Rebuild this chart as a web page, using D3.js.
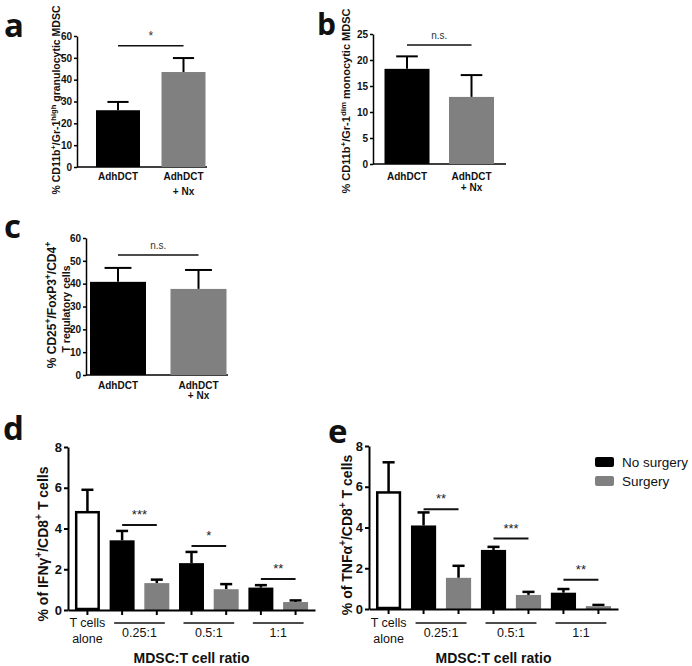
<!DOCTYPE html>
<html>
<head>
<meta charset="utf-8">
<script src="https://cdn.jsdelivr.net/npm/d3@7"></script>
<style>
  body { margin: 0; background: #fff; }
  text { font-family: "Liberation Sans", Arial, sans-serif; }
  .letter { font-family: "Open Sans", sans-serif; font-weight: 700; }
</style>
</head>
<body>
<div id="fig"></div>
<script>
// panels a-c
const groups = ["AdhDCT", "AdhDCT + Nx"];
const granMean = [26.0, 43.5], granErr = [3.8, 6.4];
const monoMean = [18.3, 12.9], monoErr = [2.4, 4.2];
const tregMean = [40.8, 37.7], tregErr = [6.1, 8.3];

// panels d-e
const ratios = ["0.25:1", "0.5:1", "1:1"];
const series = ["No surgery", "Surgery"];
const ifnAlone = 4.8, ifnAloneErr = 1.1;
const ifnNo = [3.42, 2.3, 1.1], ifnNoErr = [0.46, 0.55, 0.12];
const ifnSurg = [1.32, 1.02, 0.39], ifnSurgErr = [0.17, 0.25, 0.08];
const ifnSig = ["***", "*", "**"], ifnSigAt = [4.17, 3.14, 1.52];
const tnfAlone = 5.72, tnfAloneErr = 1.48;
const tnfNo = [4.1, 2.9, 0.8], tnfNoErr = [0.64, 0.15, 0.18];
const tnfSurg = [1.53, 0.69, 0.14], tnfSurgErr = [0.59, 0.15, 0.06];
const tnfSig = ["**", "***", "**"], tnfSigAt = [4.89, 3.46, 1.43];

const colors = ["#000", "#808080"];

const svg = d3.select("#fig").append("svg")
  .attr("width", 692)
  .attr("height", 666);

// rotated title with superscripts, parts = [text, isSup]
function richText(g, parts, size) {
  const t = g.append("text")
    .attr("text-anchor", "middle")
    .attr("font-weight", "bold")
    .attr("font-size", size);
  let up = false;
  parts.forEach(([s, sup]) => {
    const ts = t.append("tspan").text(s);
    if (sup && !up) { ts.attr("dy", -size * 0.4).attr("font-size", size * 0.72); up = true; }
    else if (sup) { ts.attr("font-size", size * 0.72); }
    else if (up) { ts.attr("dy", size * 0.4); up = false; }
  });
  return t;
}

function smallPanel(o) {
  const g = svg.append("g");
  const y = d3.scaleLinear().domain([0, o.max]).range([o.yb, o.yt]);
  const x = d3.scalePoint().domain(groups).range(o.centers);

  g.append("g")
    .attr("transform", `translate(${o.x0},0)`)
    .call(d3.axisLeft(y).tickValues(d3.range(0, o.max + 1, o.step)).tickSize(3).tickPadding(2).tickSizeOuter(0))
    .call(a => a.select(".domain").attr("stroke-width", 1.5))
    .call(a => a.selectAll(".tick line").attr("stroke-width", 1.5))
    .call(a => a.selectAll(".tick text").attr("font-size", 10).attr("font-weight", "bold")
      .attr("font-family", "Liberation Sans, Arial, sans-serif").attr("fill", "#111"));

  g.append("line")
    .attr("x1", o.x0).attr("x2", o.x1)
    .attr("y1", y(0)).attr("y2", y(0))
    .attr("stroke", "#000").attr("stroke-width", 1.5);

  groups.forEach((d, i) => {
    const cx = x(d);
    const top = y(o.means[i] + o.errs[i]);
    g.append("line").attr("x1", cx).attr("x2", cx).attr("y1", y(o.means[i])).attr("y2", top)
      .attr("stroke", "#000").attr("stroke-width", 2);
    g.append("line").attr("x1", cx - o.barW * 0.24).attr("x2", cx + o.barW * 0.24)
      .attr("y1", top).attr("y2", top).attr("stroke", "#000").attr("stroke-width", 2);
    g.append("rect")
      .attr("x", cx - o.barW / 2).attr("width", o.barW)
      .attr("y", y(o.means[i])).attr("height", y(0) - y(o.means[i]))
      .attr("fill", colors[i]);
    const lines = d.includes("+") ? ["AdhDCT", "+ Nx"] : [d];
    lines.forEach((s, j) => {
      g.append("text").attr("x", cx).attr("y", o.labelY + j * o.lineH)
        .attr("text-anchor", "middle").attr("font-size", 10).attr("font-weight", "bold")
        .attr("fill", "#111").text(s);
    });
  });

  const sy = y(o.sigAt);
  g.append("line").attr("x1", x(groups[0])).attr("x2", x(groups[1]))
    .attr("y1", sy).attr("y2", sy).attr("stroke", "#111").attr("stroke-width", 1.5);
  g.append("text").attr("x", (x(groups[0]) + x(groups[1])) / 2).attr("y", sy - 6)
    .attr("text-anchor", "middle").attr("font-size", o.sig === "*" ? 12 : 10)
    .attr("fill", "#333").text(o.sig);

  o.titles.forEach(tt => {
    const tg = g.append("g").attr("transform", `translate(${tt.x},${tt.y}) rotate(-90)`);
    richText(tg, tt.parts, tt.size).attr("fill", "#111");
  });
}

smallPanel({
  x0: 77, x1: 207, yb: 167, yt: 36, max: 60, step: 10, centers: [118, 183.5], barW: 44,
  means: granMean, errs: granErr, sig: "*", sigAt: 55.5, labelY: 180, lineH: 15,
  titles: [{ x: 60, y: 100, size: 10.5, parts: [["% CD11b"], ["+", 1], ["/Gr-1"], ["high", 1], [" granulocytic MDSC"]] }]
});
smallPanel({
  x0: 373, x1: 506, yb: 164, yt: 34, max: 25, step: 5, centers: [407, 471.5], barW: 45,
  means: monoMean, errs: monoErr, sig: "n.s.", sigAt: 22.9, labelY: 180, lineH: 11,
  titles: [{ x: 350, y: 101, size: 11, parts: [["% CD11b"], ["+", 1], ["/Gr-1"], ["dim", 1], [" monocytic MDSC"]] }]
});
smallPanel({
  x0: 86, x1: 228, yb: 375, yt: 238, max: 60, step: 10, centers: [118, 198.5], barW: 56,
  means: tregMean, errs: tregErr, sig: "n.s.", sigAt: 52.6, labelY: 389, lineH: 10,
  titles: [
    { x: 56, y: 305, size: 12, parts: [["% CD25"], ["+", 1], ["/FoxP3"], ["+", 1], ["/CD4"], ["+", 1]] },
    { x: 70, y: 309, size: 10.5, parts: [["T regulatory cells"]] }
  ]
});

function bigPanel(o) {
  const g = svg.append("g");
  const keys = ["alone"];
  ratios.forEach((r, i) => { keys.push("no" + i, "s" + i); });
  const x = d3.scaleBand().domain(keys).range([o.x0, o.x1]).paddingInner(0.28).paddingOuter(0.2);
  const y = d3.scaleLinear().domain([0, 8]).range([o.yb, o.yt]);
  const bw = x.bandwidth();

  g.append("g")
    .attr("transform", `translate(${o.x0},0)`)
    .call(d3.axisLeft(y).tickValues([0, 2, 4, 6, 8]).tickSize(4).tickPadding(2).tickSizeOuter(0).tickFormat(d3.format("d")))
    .call(a => a.select(".domain").attr("stroke-width", 2))
    .call(a => a.selectAll(".tick line").attr("stroke-width", 2))
    .call(a => a.selectAll(".tick text").attr("font-size", 13).attr("font-weight", "bold")
      .attr("font-family", "Liberation Sans, Arial, sans-serif").attr("fill", "#111"));

  const bars = [{ k: "alone", v: o.alone, e: o.aloneErr, fill: "#fff" }];
  ratios.forEach((r, i) => {
    bars.push({ k: "no" + i, v: o.no[i], e: o.noErr[i], fill: colors[0] });
    bars.push({ k: "s" + i, v: o.surg[i], e: o.surgErr[i], fill: colors[1] });
  });

  bars.forEach(b => {
    const cx = x(b.k) + bw / 2;
    const top = y(b.v + b.e);
    g.append("line").attr("x1", cx).attr("x2", cx).attr("y1", y(b.v)).attr("y2", top)
      .attr("stroke", "#000").attr("stroke-width", 2.5);
    g.append("line").attr("x1", cx - bw * 0.24).attr("x2", cx + bw * 0.24)
      .attr("y1", top).attr("y2", top).attr("stroke", "#000").attr("stroke-width", 2.5);
  });

  g.selectAll("rect.bar").data(bars).enter().append("rect")
    .attr("class", "bar")
    .attr("x", d => d.fill === "#fff" ? x(d.k) + 1.25 : x(d.k))
    .attr("width", d => d.fill === "#fff" ? bw - 2.5 : bw)
    .attr("y", d => y(d.v))
    .attr("height", d => y(0) - y(d.v) - (d.fill === "#fff" ? 1 : 0))
    .attr("fill", d => d.fill)
    .attr("stroke", d => d.fill === "#fff" ? "#000" : "none")
    .attr("stroke-width", 2.5);

  g.append("g")
    .attr("transform", `translate(0,${y(0)})`)
    .call(d3.axisBottom(x).tickSize(5).tickSizeOuter(0).tickFormat(""))
    .call(a => a.select(".domain").attr("stroke-width", 2))
    .call(a => a.selectAll(".tick line").attr("stroke-width", 2));

  // significance
  ratios.forEach((r, i) => {
    const a = x("no" + i) + bw / 2, b = x("s" + i) + bw / 2;
    const sy = y(o.sigAt[i]);
    g.append("line").attr("x1", a).attr("x2", b).attr("y1", sy).attr("y2", sy)
      .attr("stroke", "#111").attr("stroke-width", 2);
    g.append("text").attr("x", (a + b) / 2).attr("y", sy - 6).attr("text-anchor", "middle")
      .attr("font-size", 13).attr("fill", "#222").text(o.sig[i]);
    // group underline + label
    g.append("line").attr("x1", a - 8).attr("x2", b + 8).attr("y1", 623).attr("y2", 623)
      .attr("stroke", "#111").attr("stroke-width", 1.5);
    g.append("text").attr("x", (a + b) / 2).attr("y", 637).attr("text-anchor", "middle")
      .attr("font-size", 12.5).attr("fill", "#111").text(r);
  });

  const ax = x("alone") + bw / 2;
  ["T cells", "alone"].forEach((s, j) => {
    g.append("text").attr("x", ax).attr("y", 627 + j * 16).attr("text-anchor", "middle")
      .attr("font-size", 12.5).attr("fill", "#111").text(s);
  });

  g.append("text").attr("x", (o.x0 + o.x1) / 2).attr("y", 663).attr("text-anchor", "middle")
    .attr("font-size", 14).attr("font-weight", "bold").attr("fill", "#111").text("MDSC:T cell ratio");

  const tg = g.append("g").attr("transform", `translate(${o.tx},${o.ty}) rotate(-90)`);
  richText(tg, o.title, 14).attr("fill", "#111");
}

bigPanel({
  x0: 68, x1: 315, yb: 610, yt: 447,
  alone: ifnAlone, aloneErr: ifnAloneErr, no: ifnNo, noErr: ifnNoErr, surg: ifnSurg, surgErr: ifnSurgErr,
  sig: ifnSig, sigAt: ifnSigAt, tx: 48, ty: 544,
  title: [["% of  IFN\u03b3"], ["+", 1], ["/CD8"], ["+", 1], [" T cells"]]
});
bigPanel({
  x0: 369, x1: 618, yb: 609, yt: 446,
  alone: tnfAlone, aloneErr: tnfAloneErr, no: tnfNo, noErr: tnfNoErr, surg: tnfSurg, surgErr: tnfSurgErr,
  sig: tnfSig, sigAt: tnfSigAt, tx: 352, ty: 535,
  title: [["% of TNF\u03b1"], ["+", 1], ["/CD8"], ["+", 1], [" T cells"]]
});

// legend
const leg = svg.append("g");
series.forEach((s, i) => {
  leg.append("rect").attr("x", 595).attr("y", 457 + i * 19).attr("width", 19).attr("height", 10)
    .attr("rx", 2).attr("fill", colors[i]);
  leg.append("text").attr("x", 622).attr("y", 467 + i * 19).attr("font-size", 13.5)
    .attr("fill", "#111").text(s);
});

// panel letters
[["a", 4, 37, 33], ["b", 317, 35, 30], ["c", 4, 238, 33], ["d", 3, 440, 33], ["e", 328, 443, 33]].forEach(([l, lx, ly, fs]) => {
  svg.append("text").attr("class", "letter").attr("x", lx).attr("y", ly)
    .attr("font-size", fs).attr("fill", "#111").text(l);
});
</script>
</body>
</html>
